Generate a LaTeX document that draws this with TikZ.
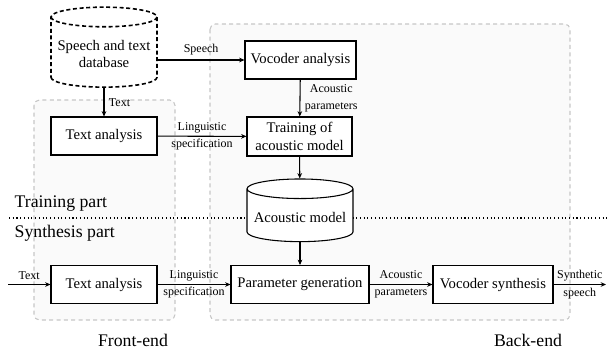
\documentclass[tikz,border=0pt]{standalone}
\usepackage{fontspec}
\setmainfont{Liberation Serif}
\usetikzlibrary{shapes.geometric,arrows.meta}

\tikzset{
  block/.style={draw, thick, fill=white, font=\fontsize{11}{13}\selectfont,
    align=center, minimum height=28.5pt, inner sep=2pt},
  store/.style={cylinder, shape border rotate=90, aspect=0.2, draw, thick,
    fill=white, font=\fontsize{11}{13}\selectfont, align=center, inner sep=2pt},
  lbl/.style={font=\fontsize{9}{13}\selectfont, align=center},
  flow/.style={thick, -{Stealth[length=4pt,width=3.5pt]}},
  region/.style={draw=gray!45, thick, dash pattern=on 3pt off 2.5pt,
    fill=gray!4, rounded corners=4pt},
  part/.style={font=\fontsize{13.3}{15}\selectfont},
}

\begin{document}
\begin{tikzpicture}[x=0.75pt, y=-0.75pt]
                        \useasboundingbox (0,0) rectangle (607,350);

                        % Regions
                        \draw [region] (34,100) rectangle (175,320);
                        \draw [region] (210,24) rectangle (570,320);
                        \node [part] (frontend) at (133,340) {Front-end};
                        \node [part] (backend) at (528,340) {Back-end};

                        % Split between training and synthesis
                        \coordinate (splitL) at (9,218);
                        \coordinate (splitR) at (607,218);
                        \draw [thick, dotted] (splitL) -- (splitR);
                        \node [part, anchor=west] (training) at (10,204) {Training part};
                        \node [part, anchor=west] (synthesis) at (10,233) {Synthesis part};

                        % Training part
                        \node [store, very thick, dash pattern=on 3pt off 2pt,
                               minimum width=79.5pt, minimum height=60pt] (db) at (104,54) {Speech and text\\database};
                        \node [block, minimum width=83.25pt] (vocana) at (300.5,60) {Vocoder analysis};
                        \node [block, minimum width=79.5pt] (txtana) at (104,136) {Text analysis};
                        \node [block, minimum width=78.75pt, minimum height=29.25pt] (train) at (299.5,136.5) {Training of\\acoustic model};
                        \node [store, minimum width=79.5pt, minimum height=47pt] (model) at (300,217) {Acoustic model};

                        \draw [flow] (db.east |- vocana.west) -- node [lbl, above] {Speech} (vocana.west);
                        \draw [flow] (db) -- node [lbl, right] {Text} (txtana);
                        \draw [flow] (txtana) -- node [lbl] {Linguistic\\specification} (train);
                        \draw [flow] (vocana) -- node [lbl, right] {Acoustic\\parameters} (train);
                        \draw [flow] (train) -- (model);

                        % Synthesis part
                        \node [block, minimum width=79.5pt] (txtsyn) at (104,284.5) {Text analysis};
                        \node [block, minimum width=103.5pt] (pargen) at (300,284.5) {Parameter generation};
                        \node [block, minimum width=90pt] (vocsyn) at (493,284.5) {Vocoder synthesis};
                        \coordinate (in) at (8,284.5);
                        \coordinate (out) at (606,284.5);

                        \draw [flow] (in) -- node [lbl, above] {Text} (txtsyn);
                        \draw [flow] (txtsyn) -- node [lbl] {Linguistic\\specification} (pargen);
                        \draw [flow] (pargen) -- node [lbl] {Acoustic\\parameters} (vocsyn);
                        \draw [flow] (vocsyn) -- node [lbl] {Synthetic\\speech} (out);
                        \draw [flow] (model) -- (pargen);
                    \end{tikzpicture}
\end{document}
